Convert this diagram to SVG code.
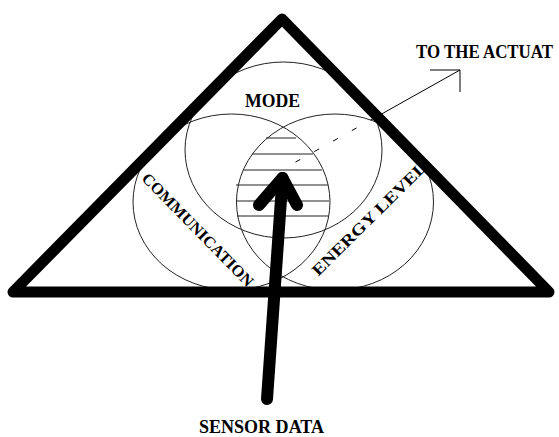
<svg xmlns="http://www.w3.org/2000/svg" width="559" height="437" viewBox="0 0 559 437">
<style>
.set{fill:none;stroke:#222;stroke-width:1}
.hatch{stroke:#222;stroke-width:1}
.lbl{font-family:"Liberation Serif","Times New Roman",serif;font-weight:bold;fill:#000}
.thick{fill:none;stroke:#000;stroke-linecap:round;stroke-linejoin:round}
</style>
<rect width="559" height="437" fill="#fff"/>
<g id="mode">
<ellipse class="set" cx="283.5" cy="150" rx="98.5" ry="88"/>
<text class="lbl" x="245" y="107" font-size="19" textLength="55" lengthAdjust="spacingAndGlyphs">MODE</text>
</g>
<g id="communication">
<ellipse class="set" cx="231.5" cy="202" rx="98.5" ry="88"/>
<text class="lbl" font-size="16" text-anchor="middle" textLength="152" lengthAdjust="spacingAndGlyphs" transform="translate(194,233.5) rotate(45.5)">COMMUNICATION</text>
</g>
<g id="energy-level">
<ellipse class="set" cx="335" cy="202" rx="98.5" ry="88"/>
<text class="lbl" font-size="16" text-anchor="middle" textLength="154" lengthAdjust="spacingAndGlyphs" transform="translate(373,222.5) rotate(-44.7)">ENERGY LEVEL</text>
</g>
<g id="core">
<line class="hatch" x1="266" y1="138" x2="296" y2="138"/>
<line class="hatch" x1="252" y1="154" x2="313" y2="154"/>
<line class="hatch" x1="244" y1="170" x2="322" y2="170"/>
<line class="hatch" x1="236" y1="185" x2="328" y2="185"/>
<line class="hatch" x1="236" y1="201" x2="329" y2="201"/>
<line class="hatch" x1="237" y1="216" x2="328" y2="216"/>
</g>
<g id="triangle">
<polygon class="thick" points="13,292 282,19 549,292" stroke-width="11"/>
</g>
<g id="connectors">
<line x1="295.5" y1="162.1" x2="378" y2="116" stroke="#000" stroke-width="1" stroke-dasharray="5.5 16"/>
<line x1="378" y1="116" x2="460" y2="70" stroke="#000" stroke-width="1"/>
<polyline points="430,70 460,70 460,92" fill="none" stroke="#000" stroke-width="1"/>
<line class="thick" x1="267" y1="399" x2="282.5" y2="178" stroke-width="12"/>
<polyline class="thick" points="259,205 282.5,178 297,205" stroke-width="12"/>
</g>
<g id="labels">
<text class="lbl" x="416" y="58" font-size="19" textLength="137" lengthAdjust="spacingAndGlyphs">TO THE ACTUAT</text>
<text class="lbl" x="199" y="433" font-size="19" textLength="125" lengthAdjust="spacingAndGlyphs">SENSOR DATA</text>
</g>
</svg>
